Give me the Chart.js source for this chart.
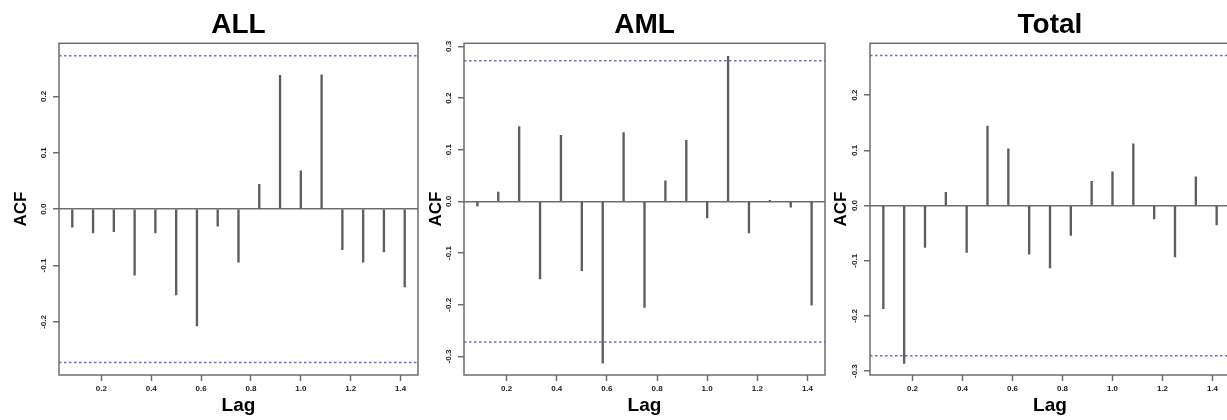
<!DOCTYPE html>
<html>
<head>
<meta charset="utf-8">
<script src="https://cdn.jsdelivr.net/npm/chart.js@4.4.1/dist/chart.umd.min.js"></script>
<style>
  html, body { margin: 0; padding: 0; background: #fff; overflow: hidden; }
  .panel { position: absolute; top: 0; height: 420px; }
</style>
</head>
<body>
<div class="panel" id="p1" style="left:0px;width:420px"><canvas id="c1"></canvas></div>
<div class="panel" id="p2" style="left:420px;width:410px"><canvas id="c2"></canvas></div>
<div class="panel" id="p3" style="left:830px;width:402px"><canvas id="c3"></canvas></div>
<script>
// lags are k/12, k = 1..17
const lags = [1/12, 2/12, 3/12, 4/12, 5/12, 6/12, 7/12, 8/12, 9/12, 10/12, 11/12, 12/12, 13/12, 14/12, 15/12, 16/12, 17/12];

const acfALL = [-0.032, -0.042, -0.040, -0.117, -0.042, -0.152, -0.207, -0.030, -0.094,
                0.044, 0.237, 0.068, 0.238, -0.072, -0.094, -0.076, -0.138];
const acfAML = [-0.009, 0.018, 0.145, -0.150, 0.128, -0.134, -0.313, 0.133, -0.205,
                0.040, 0.118, -0.032, 0.281, -0.061, 0.002, -0.011, -0.201];
const acfTotal = [-0.187, -0.286, -0.076, 0.024, -0.085, 0.144, 0.103, -0.088, -0.113,
                  -0.054, 0.044, 0.061, 0.112, -0.024, -0.093, 0.052, -0.035];

const ciBound = 0.272;

const xTicks = [0.2, 0.4, 0.6, 0.8, 1.0, 1.2, 1.4];
const yTicksALL = [-0.2, -0.1, 0.0, 0.1, 0.2];
const yTicksAML = [-0.3, -0.2, -0.1, 0.0, 0.1, 0.2, 0.3];
const yTicksTotal = [-0.3, -0.2, -0.1, 0.0, 0.1, 0.2];

const xRange = [0.03, 1.47];

const axisGray = '#6e6e6e';
const spikeGray = '#5e5e5e';
const ciBlue = '#6f6fc4';
const fontFamily = '"Liberation Sans", Arial, sans-serif';

// frame around the plot region, like R's box()
const boxPlugin = {
    id: 'box',
    afterDraw(chart) {
        const a = chart.chartArea;
        const ctx = chart.ctx;
        ctx.save();
        ctx.strokeStyle = axisGray;
        ctx.lineWidth = 1.5;
        ctx.strokeRect(a.left, a.top, a.right - a.left, a.bottom - a.top);
        ctx.restore();
    }
};

function makeAcf(canvasId, title, values, yTicks, yMin, yMax, yAxisWidth, padRight, acfPad) {
    const ctx = document.getElementById(canvasId);
    const spikes = lags.map((x, i) => ({x: x, y: values[i]}));
    const ciUp = [{x: xRange[0], y: ciBound}, {x: xRange[1], y: ciBound}];
    const ciDown = [{x: xRange[0], y: -ciBound}, {x: xRange[1], y: -ciBound}];

    return new Chart(ctx, {
        type: 'bar',
        data: {
            datasets: [{
                label: 'ACF',
                data: spikes,
                backgroundColor: spikeGray,
                borderWidth: 0,
                barThickness: 1.7
            }, {
                type: 'line',
                label: 'upper',
                data: ciUp,
                borderColor: ciBlue,
                borderWidth: 1.5,
                borderDash: [2.5, 2.5],
                pointRadius: 0
            }, {
                type: 'line',
                label: 'lower',
                data: ciDown,
                borderColor: ciBlue,
                borderWidth: 1.5,
                borderDash: [2.5, 2.5],
                pointRadius: 0
            }]
        },
        options: {
            responsive: true,
            maintainAspectRatio: false,
            animation: false,
            layout: { padding: { left: 0, right: padRight, top: 0, bottom: 0 } },
            plugins: {
                legend: { display: false },
                tooltip: { enabled: false },
                title: {
                    display: true,
                    text: title,
                    color: '#000',
                    fullSize: false,
                    font: { family: fontFamily, size: 28, weight: 'bold', lineHeight: 1.2 },
                    padding: { top: 8, bottom: 1.7 }
                }
            },
            scales: {
                x: {
                    type: 'linear',
                    min: xRange[0],
                    max: xRange[1],
                    offset: false,
                    afterBuildTicks: (s) => { s.ticks = xTicks.map(v => ({value: v})); },
                    afterFit: (s) => { s.height = 45; },
                    grid: { offset: false, drawOnChartArea: false, tickLength: 6, tickColor: axisGray, tickWidth: 1.5 },
                    border: { display: false },
                    ticks: {
                        color: '#222',
                        padding: 3,
                        maxRotation: 0,
                        autoSkip: false,
                        font: { family: fontFamily, size: 8, weight: 'bold' },
                        callback: (v) => v.toFixed(1)
                    },
                    title: {
                        display: true,
                        text: 'Lag',
                        color: '#000',
                        font: { family: fontFamily, size: 19, weight: 'bold' },
                        padding: { top: 0, bottom: 3 }
                    }
                },
                y: {
                    type: 'linear',
                    min: yMin,
                    max: yMax,
                    afterBuildTicks: (s) => { s.ticks = yTicks.map(v => ({value: v})); },
                    afterFit: (s) => { s.width = yAxisWidth; },
                    grid: {
                        drawOnChartArea: true,
                        tickLength: 6,
                        tickColor: axisGray,
                        tickWidth: 1.5,
                        lineWidth: 1.5,
                        color: (c) => (c.tick && Math.abs(c.tick.value) < 1e-9) ? axisGray : 'rgba(0,0,0,0)'
                    },
                    border: { display: false },
                    ticks: {
                        color: '#222',
                        padding: 2,
                        minRotation: 90,
                        maxRotation: 90,
                        crossAlign: 'center',
                        autoSkip: false,
                        font: { family: fontFamily, size: 8, weight: 'bold' },
                        callback: (v) => v.toFixed(1)
                    },
                    title: {
                        display: true,
                        text: 'ACF',
                        color: '#000',
                        font: { family: fontFamily, size: 17, weight: 'bold' },
                        padding: { top: acfPad, bottom: 0 }
                    }
                }
            }
        },
        plugins: [boxPlugin]
    });
}

makeAcf('c1', 'ALL', acfALL, yTicksALL, -0.294, 0.294, 59, 2, 11);
makeAcf('c2', 'AML', acfAML, yTicksAML, -0.336, 0.306, 44, 5, 6);
makeAcf('c3', 'Total', acfTotal, yTicksTotal, -0.307, 0.294, 40, 2, 1);
</script>
</body>
</html>
